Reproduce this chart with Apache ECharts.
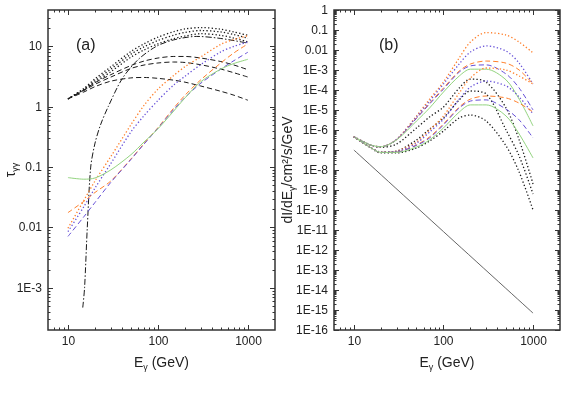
<!DOCTYPE html>
<html>
<head>
<meta charset="utf-8">
<script src="https://cdn.jsdelivr.net/npm/echarts@6/dist/echarts.min.js"></script>
<style>
  html, body { margin: 0; padding: 0; background: #fff; }
  #chart { width: 566px; height: 394px; }
</style>
</head>
<body>
<div id="chart"></div>
<script>
// ---- data ----
var energies = [10, 15, 20, 30, 50, 70, 100, 150, 200, 300, 500, 700, 1000] // GeV

// panel (a): optical depth
var tauDot1 = [1.35, 2.0, 2.9, 4.6, 8.2, 11, 14.2, 17.5, 19.4, 20.5, 19.2, 17.3, 15.2]
var tauDot2 = [1.35, 1.95, 2.7, 4.2, 7.4, 9.8, 12.5, 15.3, 17, 18.3, 17.3, 15.7, 13.6]
var tauDot3 = [1.35, 1.9, 2.55, 3.8, 6.6, 8.7, 11, 13.4, 14.8, 16.2, 15.2, 13.7, 11.8]
var tauDash1 = [1.35, 1.9, 2.5, 3.4, 4.8, 5.7, 6.4, 6.8, 6.8, 6.4, 5.6, 4.9, 4.1]
var tauDash2 = [1.35, 1.85, 2.35, 3.1, 4.3, 4.9, 5.3, 5.5, 5.4, 4.95, 4.2, 3.65, 3.1]
var tauDash3 = [1.35, 1.75, 2.15, 2.65, 3.0, 3.05, 2.95, 2.75, 2.55, 2.2, 1.8, 1.55, 1.28]
var eDashDot = [14.6, 15.3, 16.4, 17.9, 20, 23, 28, 40, 60, 96, 150, 270, 500, 1000]
var tauDashDot = [4.7e-4, 1e-3, 0.01, 0.1, 0.25, 0.5, 1, 2.9, 6, 10, 12.8, 14.6, 13.5, 11.3]
var tauOrDot = [0.0097, 0.028, 0.059, 0.15, 0.5, 1.05, 1.95, 3.3, 4.6, 6.7, 10.8, 13, 15]
var tauPuDot = [0.0085, 0.022, 0.045, 0.115, 0.38, 0.71, 1.27, 2.3, 3.2, 5.0, 8.1, 10, 11.8]
var tauOrDash = [0.0176, 0.027, 0.038, 0.059, 0.136, 0.245, 0.45, 0.95, 1.55, 2.8, 5.3, 7.8, 11]
var tauPuDash = [0.0071, 0.015, 0.026, 0.056, 0.133, 0.24, 0.44, 0.9, 1.42, 2.45, 4.2, 5.8, 8]
var tauGreen = [0.067, 0.063, 0.066, 0.09, 0.16, 0.26, 0.43, 0.85, 1.4, 2.6, 4.2, 5.2, 6.1]

// panel (b): spectra, upper (U) and lower (L) groups
var uOrDot = [4.6e-7, 1.86e-7, 1.45e-7, 3.5e-7, 5e-6, 3.5e-5, 2.5e-4, 4e-3, 2.5e-2, 7.4e-2, 5.6e-2, 2.5e-2, 7.1e-3]
var uPuDot = [4.6e-7, 1.86e-7, 1.45e-7, 3.4e-7, 4.5e-6, 2.8e-5, 2e-4, 2e-3, 7.9e-3, 1.6e-2, 8.9e-3, 2.2e-3, 2e-4]
var uOrDash = [4.6e-7, 1.86e-7, 1.45e-7, 3.3e-7, 4e-6, 2.2e-5, 1.26e-4, 8.9e-4, 2e-3, 2.8e-3, 2.2e-3, 1e-3, 2e-4]
var uPuDash = [4.6e-7, 1.86e-7, 1.45e-7, 3.3e-7, 3.8e-6, 2e-5, 1.1e-4, 7.9e-4, 1.6e-3, 1.8e-3, 6.3e-4, 1.26e-4, 1e-5]
var uGreen = [4.6e-7, 1.86e-7, 1.45e-7, 3.2e-7, 2.8e-6, 1.26e-5, 7.9e-5, 5e-4, 1.1e-3, 1.1e-3, 3.2e-4, 3.5e-5, 1.6e-6]
var uBkDot = [4.6e-7, 1.86e-7, 1.35e-7, 2e-7, 1.26e-6, 4.5e-6, 1.4e-5, 1.26e-4, 3.5e-4, 2.5e-4, 1.26e-5, 3.2e-7, 2e-9]
var lOrDot = [4.6e-7, 1.41e-7, 7.9e-8, 8.9e-8, 2.5e-7, 1e-6, 5e-6, 7.1e-5, 4e-4, 1.26e-3, 1e-3, 5e-4, 2e-4]
var lPuDot = [4.6e-7, 1.41e-7, 7.9e-8, 8.5e-8, 2.2e-7, 7.9e-7, 3.5e-6, 3.5e-5, 1.4e-4, 2.8e-4, 1.6e-4, 4.5e-5, 6.3e-6]
var lOrDash = [4.6e-7, 1.41e-7, 7.6e-8, 7.9e-8, 1.8e-7, 4.5e-7, 2e-6, 1.4e-5, 3.5e-5, 5e-5, 4e-5, 2.2e-5, 7.9e-6]
var lPuDash = [4.6e-7, 1.41e-7, 7.6e-8, 7.9e-8, 1.7e-7, 4e-7, 1.8e-6, 1.26e-5, 2.8e-5, 3.2e-5, 1.1e-5, 3.2e-6, 4e-7]
var lGreen = [4.6e-7, 1.41e-7, 7.6e-8, 7.6e-8, 1.4e-7, 3.2e-7, 1.26e-6, 7.9e-6, 1.8e-5, 1.8e-5, 5e-6, 6.3e-7, 4e-8]
var mBkDot = [4.6e-7, 1.41e-7, 7.9e-8, 8.9e-8, 3.2e-7, 1.1e-6, 4e-6, 3.2e-5, 8.9e-5, 6.3e-5, 1e-6, 5e-8, 6.3e-10]
var lBkDot = [4.6e-7, 1.41e-7, 7.1e-8, 7.1e-8, 1.26e-7, 2.8e-7, 8.9e-7, 4e-6, 5.6e-6, 2.8e-6, 1.6e-7, 7.9e-9, 1e-10]
var eLine = [10, 100, 1000]
var lineFlux = [1e-7, 8.3e-12, 7e-16]

// tick labels
var xTicks = [10, 100, 1000]
var xTickLabels = ['10', '100', '1000']
var yTicksA = [1e-3, 0.01, 0.1, 1, 10]
var yTickLabelsA = ['1E-3', '0.01', '0.1', '1', '10']
var yTicksB = [1, 0.1, 0.01, 1e-3, 1e-4, 1e-5, 1e-6, 1e-7, 1e-8, 1e-9, 1e-10, 1e-11, 1e-12, 1e-13, 1e-14, 1e-15, 1e-16]
var yTickLabelsB = ['1', '0.1', '0.01', '1E-3', '1E-4', '1E-5', '1E-6', '1E-7', '1E-8', '1E-9', '1E-10', '1E-11', '1E-12', '1E-13', '1E-14', '1E-15', '1E-16']
var minorSteps = [2, 3, 4, 5, 6, 7, 8, 9]

var ORANGE = '#ff7f2a'
var PURPLE = '#6650d8'
var GREEN = '#93d47f'
var BLACK = '#1a1a1a'
var FONT = 'Liberation Sans, Arial, sans-serif'

var xRange = [6, 2000]
var yRangeA = [2e-4, 40]
var yRangeB = [1e-16, 1]

function pairs (xs, ys) {
  return xs.map(function (x, i) { return [x, ys[i]] })
}

// build tick entries: [x, y, kind], kind 0 x-major, 1 x-minor, 2 y-major, 3 y-minor
function buildTicks (yTicks, yLabels, yRange) {
  var items = []
  var labels = []
  function inside (v, r) { return v > r[0] * 1.0001 && v < r[1] * 0.9999 }
  xTicks.forEach(function (v, i) { items.push([v, 1, 0]); labels.push(xTickLabels[i]) })
  xTicks.concat([1]).forEach(function (d) {
    minorSteps.forEach(function (m) {
      if (inside(m * d, xRange)) { items.push([m * d, 1, 1]); labels.push('') }
    })
  })
  yTicks.forEach(function (v, i) { items.push([100, v, 2]); labels.push(yLabels[i]) })
  yTicks.concat([yTicks[0] / 10, yTicks[yTicks.length - 1] / 10]).forEach(function (d) {
    minorSteps.forEach(function (m) {
      if (inside(m * d, yRange)) { items.push([100, m * d, 3]); labels.push('') }
    })
  })
  return { items: items, labels: labels }
}

function tickSeries (gridIdx, ticks) {
  return {
    type: 'custom',
    xAxisIndex: gridIdx,
    yAxisIndex: gridIdx,
    silent: true,
    z: 5,
    data: ticks.items,
    renderItem: function (params, api) {
      var cs = params.coordSys
      var kind = api.value(2)
      var len = kind % 2 === 0 ? 5 : 2.5
      var st = { stroke: '#333', lineWidth: 1 }
      var p = api.coord([api.value(0), api.value(1)])
      var label = ticks.labels[params.dataIndex]
      var ch = []
      if (kind < 2) {
        var x = Math.round(p[0]) + 0.5
        var b = cs.y + cs.height
        ch.push({ type: 'line', shape: { x1: x, y1: b, x2: x, y2: b - len }, style: st })
        ch.push({ type: 'line', shape: { x1: x, y1: cs.y, x2: x, y2: cs.y + len }, style: st })
        if (label) {
          ch.push({ type: 'text', x: x, y: b + 6, style: { text: label, fill: '#222', font: '12px ' + FONT, textAlign: 'center', textVerticalAlign: 'top' } })
        }
      } else {
        var y = Math.round(p[1]) + 0.5
        var r = cs.x + cs.width
        ch.push({ type: 'line', shape: { x1: cs.x, y1: y, x2: cs.x + len, y2: y }, style: st })
        ch.push({ type: 'line', shape: { x1: r, y1: y, x2: r - len, y2: y }, style: st })
        if (label) {
          ch.push({ type: 'text', x: cs.x - 6, y: y, style: { text: label, fill: '#222', font: '12px ' + FONT, textAlign: 'right', textVerticalAlign: 'middle' } })
        }
      }
      return { type: 'group', children: ch }
    }
  }
}

function line (gridIdx, xs, ys, color, kind, width) {
  var dash = kind === 'dot' ? [1.3, 2.2] : kind === 'dash' ? [5, 3] : kind === 'dashdot' ? [6, 2, 1.5, 2] : 'solid'
  return {
    type: 'line',
    xAxisIndex: gridIdx,
    yAxisIndex: gridIdx,
    data: pairs(xs, ys),
    showSymbol: false,
    symbol: 'none',
    smooth: 0.3,
    silent: true,
    lineStyle: { color: color, width: width || (kind === 'dot' ? 1.3 : 1), type: dash }
  }
}

var myChart = echarts.init(document.getElementById('chart'), null, { renderer: 'canvas' })

var richName = {
  n: { fontSize: 14, fontFamily: FONT, color: '#222' },
  s: { fontSize: 9, fontFamily: FONT, color: '#222', padding: [8, 0, 0, 0] }
}

var hidden = { axisLine: { show: false }, axisTick: { show: false }, axisLabel: { show: false }, splitLine: { show: false } }

function axis (extra) {
  return Object.assign({}, hidden, extra)
}

var option = {
  animation: false,
  backgroundColor: '#fff',
  title: [
    { text: '(a)', left: 71, top: 33, textStyle: { fontSize: 16, fontWeight: 'normal', fontFamily: FONT, color: '#222' } },
    { text: '(b)', left: 374, top: 33, textStyle: { fontSize: 16, fontWeight: 'normal', fontFamily: FONT, color: '#222' } }
  ],
  grid: [
    { left: 48, top: 10, width: 227, height: 320, show: true, borderColor: '#333', borderWidth: 1.5 },
    { left: 334, top: 10, width: 226, height: 320, show: true, borderColor: '#333', borderWidth: 1.5 }
  ],
  xAxis: [
    axis({ type: 'log', gridIndex: 0, min: xRange[0], max: xRange[1], name: '{n|E}{s|γ}{n| (GeV)}', nameLocation: 'middle', nameGap: 25, nameTextStyle: { rich: richName } }),
    axis({ type: 'log', gridIndex: 1, min: xRange[0], max: xRange[1], name: '{n|E}{s|γ}{n| (GeV)}', nameLocation: 'middle', nameGap: 25, nameTextStyle: { rich: richName } })
  ],
  yAxis: [
    axis({ type: 'log', gridIndex: 0, min: yRangeA[0], max: yRangeA[1], name: '{n|τ}{s|γγ}', nameLocation: 'middle', nameGap: 28, nameTextStyle: { rich: richName } }),
    axis({ type: 'log', gridIndex: 1, min: yRangeB[0], max: yRangeB[1], name: '{n|dI/dE}{s|γ}{n|/cm²/s/GeV}', nameLocation: 'middle', nameGap: 37, nameTextStyle: { rich: richName } })
  ],
  series: [
    tickSeries(0, buildTicks(yTicksA, yTickLabelsA, yRangeA)),
    tickSeries(1, buildTicks(yTicksB, yTickLabelsB, yRangeB)),
    // panel (a)
    line(0, energies, tauDot1, BLACK, 'dot'),
    line(0, energies, tauDot2, BLACK, 'dot'),
    line(0, energies, tauDot3, BLACK, 'dot'),
    line(0, energies, tauDash1, BLACK, 'dash'),
    line(0, energies, tauDash2, BLACK, 'dash'),
    line(0, energies, tauDash3, BLACK, 'dash'),
    line(0, eDashDot, tauDashDot, BLACK, 'dashdot'),
    line(0, energies, tauOrDot, ORANGE, 'dot'),
    line(0, energies, tauPuDot, PURPLE, 'dot'),
    line(0, energies, tauOrDash, ORANGE, 'dash'),
    line(0, energies, tauPuDash, PURPLE, 'dash'),
    line(0, energies, tauGreen, GREEN, 'solid'),
    // panel (b)
    line(1, eLine, lineFlux, '#555', 'solid', 0.9),
    line(1, energies, uBkDot, BLACK, 'dot'),
    line(1, energies, mBkDot, BLACK, 'dot'),
    line(1, energies, lBkDot, BLACK, 'dot'),
    line(1, energies, uOrDot, ORANGE, 'dot'),
    line(1, energies, uPuDot, PURPLE, 'dot'),
    line(1, energies, uOrDash, ORANGE, 'dash'),
    line(1, energies, uPuDash, PURPLE, 'dash'),
    line(1, energies, uGreen, GREEN, 'solid'),
    line(1, energies, lOrDot, ORANGE, 'dot'),
    line(1, energies, lPuDot, PURPLE, 'dot'),
    line(1, energies, lOrDash, ORANGE, 'dash'),
    line(1, energies, lPuDash, PURPLE, 'dash'),
    line(1, energies, lGreen, GREEN, 'solid')
  ]
}

myChart.setOption(option)
</script>
</body>
</html>
